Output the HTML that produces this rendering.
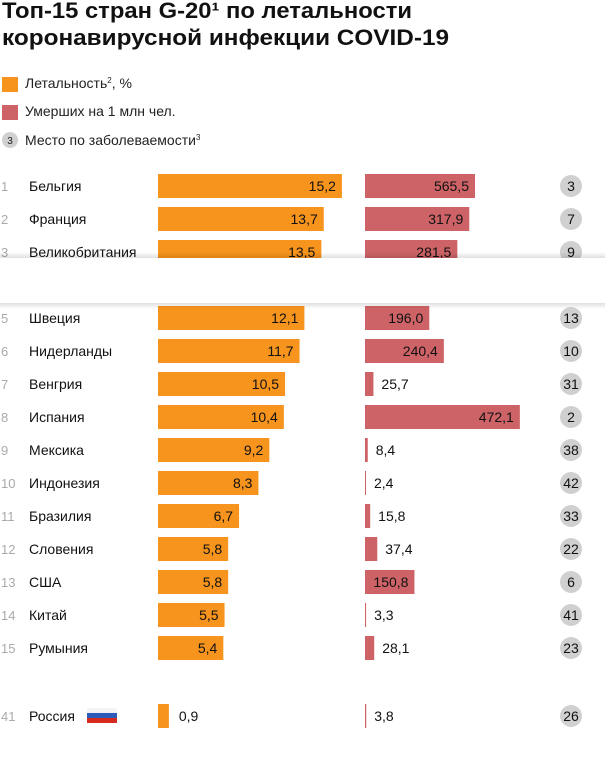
<!DOCTYPE html>
<html><head><meta charset="utf-8">
<style>
html,body{margin:0;padding:0;background:#fff;}
svg{display:block;font-family:"Liberation Sans","DejaVu Sans",sans-serif;}
</style></head>
<body>
<svg id="chart" width="605" height="758" viewBox="0 0 605 758">
  <defs>
    <linearGradient id="shTop" x1="0" y1="0" x2="0" y2="1">
      <stop offset="0" stop-color="#000" stop-opacity="0"/>
      <stop offset="1" stop-color="#000" stop-opacity="0.12"/>
    </linearGradient>
    <linearGradient id="shBot" x1="0" y1="0" x2="0" y2="1">
      <stop offset="0" stop-color="#000" stop-opacity="0.12"/>
      <stop offset="1" stop-color="#000" stop-opacity="0"/>
    </linearGradient>
  </defs>
  <text x="2" y="18" font-size="22" font-weight="bold" fill="#111" textLength="410" lengthAdjust="spacingAndGlyphs">Топ-15 стран G-20¹ по летальности</text>
  <text x="2" y="45" font-size="22" font-weight="bold" fill="#111" textLength="447" lengthAdjust="spacingAndGlyphs">коронавирусной инфекции COVID-19</text>

  <g>
    <rect x="2" y="77" width="16" height="15" fill="#f7941d"/>
    <text x="25" y="88" font-size="14" fill="#222">Летальность<tspan font-size="8" dy="-5">2</tspan><tspan dy="5">, %</tspan></text>
    <rect x="2" y="105" width="16" height="15" fill="#cd6366"/>
    <text x="25" y="116" font-size="14" fill="#222">Умерших на 1 млн чел.</text>
    <circle cx="10" cy="140" r="8" fill="#d0d0d0"/>
    <text x="10" y="144" font-size="10" text-anchor="middle" fill="#222">3</text>
    <text x="25" y="145" font-size="14" fill="#222">Место по заболеваемости<tspan font-size="8" dy="-5">3</tspan></text>
  </g>
  <g id="rows"></g>
  <g>
    <rect x="0" y="252" width="605" height="6" fill="url(#shTop)"/>
    <rect x="0" y="258" width="605" height="45" fill="#fff"/>
    <rect x="0" y="303" width="605" height="6" fill="url(#shBot)"/>
  </g>
</svg>
<script>
const ranks = [1,2,3,5,6,7,8,9,10,11,12,13,14,15,41];
const countries = ["Бельгия","Франция","Великобритания","Швеция","Нидерланды","Венгрия","Испания","Мексика","Индонезия","Бразилия","Словения","США","Китай","Румыния","Россия"];
const lethality = [15.2,13.7,13.5,12.1,11.7,10.5,10.4,9.2,8.3,6.7,5.8,5.8,5.5,5.4,0.9];
const deathsPerMillion = [565.5,317.9,281.5,196.0,240.4,25.7,472.1,8.4,2.4,15.8,37.4,150.8,3.3,28.1,3.8];
const caseRank = [3,7,9,13,10,31,2,38,42,33,22,6,41,23,26];
const rowSlots = [0,1,2,4,5,6,7,8,9,10,11,12,13,14,16.06];

const NS = "http://www.w3.org/2000/svg";
const g = document.getElementById("rows");
const xL = v => v * 12.1;
const xD = v => v > 500 ? 110 : v * 0.328;
const rowY = s => 186 + 33 * s;
const fmt = v => v.toFixed(1).replace(".", ",");
function mk(tag, attrs, text) {
  const e = document.createElementNS(NS, tag);
  for (const k in attrs) e.setAttribute(k, attrs[k]);
  if (text !== undefined) e.textContent = text;
  g.appendChild(e);
  return e;
}
countries.forEach((c, i) => {
  const cy = rowY(rowSlots[i]);
  const n = mk("text", {x: 1, y: cy + 5, "font-size": 13, fill: "#aaa"}, String(ranks[i]));
  
  
  const t = mk("text", {x: 29, y: cy + 5, "font-size": 14, fill: "#111"}, c);
  
  
  const lw = Math.max(xL(lethality[i]), 1);
  const b = mk("rect", {x: 158, y: cy - 12, width: lw, height: 24, fill: "#f7941d"});
  
  
  const big = lw > 40;
  const lt = mk("text", {x: big ? 158 + lw - 6 : 158 + lw + 10, y: cy + 5, "font-size": 14, fill: "#111", "text-anchor": big ? "end" : "start"}, fmt(lethality[i]));
  
  
  const dw = Math.max(xD(deathsPerMillion[i]), 1);
  const d = mk("rect", {x: 365, y: cy - 12, width: dw, height: 24, fill: "#cd6366"});
  
  
  const dbig = dw > 40;
  const dt = mk("text", {x: dbig ? 365 + dw - 6 : 365 + dw + 8, y: cy + 5, "font-size": 14, fill: "#111", "text-anchor": dbig ? "end" : "start"}, fmt(deathsPerMillion[i]));
  
  
  const cc = mk("circle", {cx: 571, cy: cy, r: 11, fill: "#d0d0d0"});
  
  
  const ct = mk("text", {x: 571, y: cy + 5, "font-size": 14, fill: "#111", "text-anchor": "middle"}, String(caseRank[i]));
  
  
});
// Russian flag
const fy = rowY(16.06);
[["#f4f4f4",-8],["#2a5bb8",-3],["#d52b1e",2]].forEach(([col, off]) => {
  const r = mk("rect", {x: 87, y: fy + off, width: 30, height: 5, fill: col});
  
  
});
</script>
</body></html>
